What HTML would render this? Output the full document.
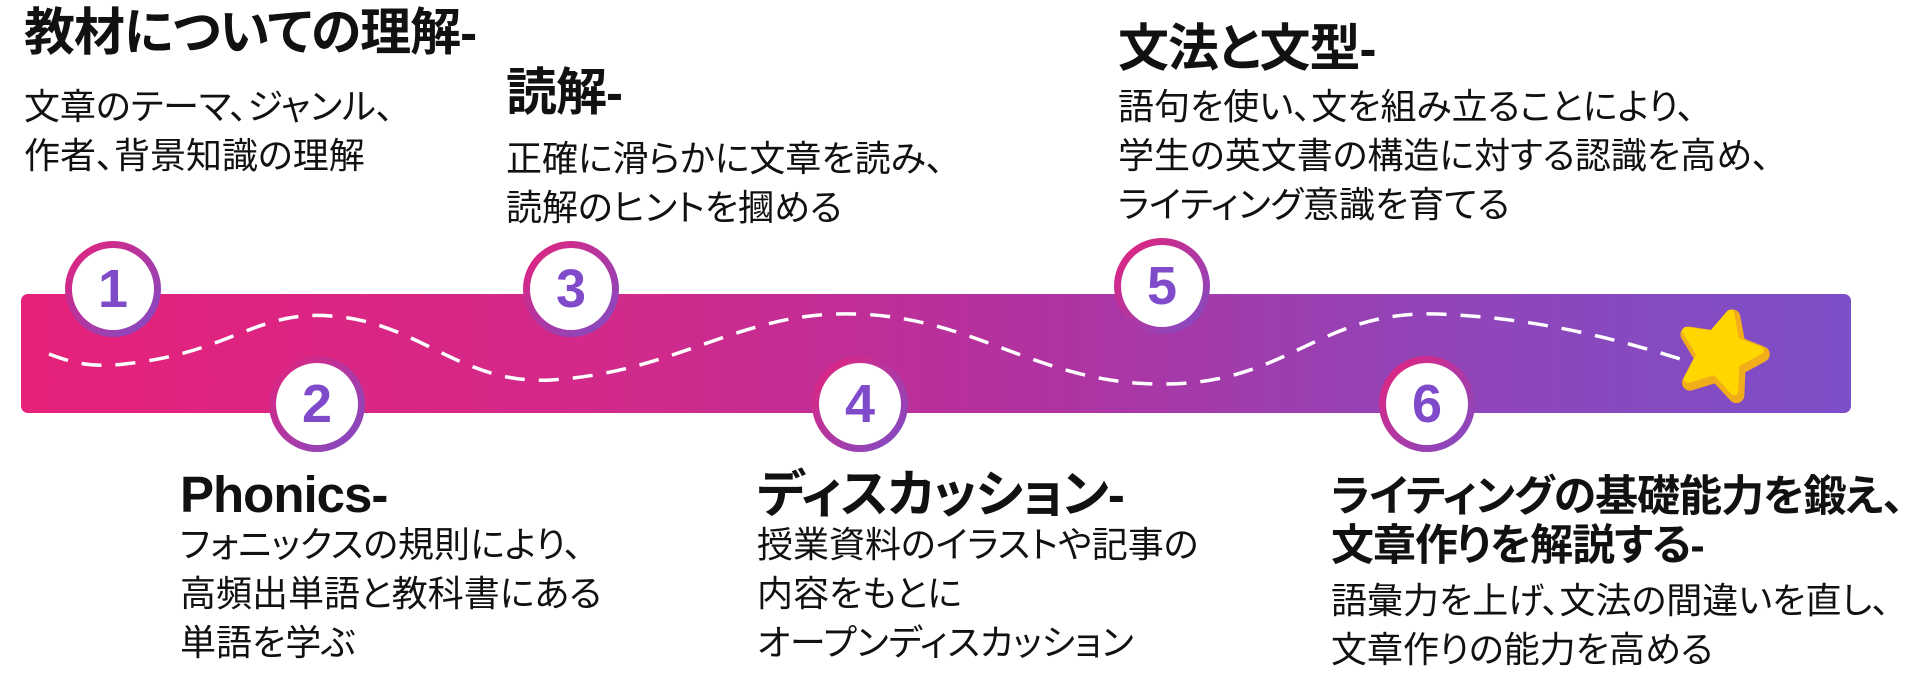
<!DOCTYPE html>
<html><head><meta charset="utf-8">
<style>
html,body{margin:0;padding:0;background:#fff;}
body{width:1920px;height:698px;position:relative;overflow:hidden;font-family:"Liberation Sans","Noto Sans CJK JP",sans-serif;color:#111;font-feature-settings:"palt";}
.t{position:absolute;font-weight:bold;font-size:51px;line-height:58px;white-space:nowrap;letter-spacing:-1px;}
.b{position:absolute;font-size:36px;line-height:49px;white-space:nowrap;}
.band{position:absolute;left:21px;top:294px;width:1830px;height:119px;border-radius:7px;background:linear-gradient(90deg,#e6217a 0%,#cf2a8c 35%,#b232a0 55%,#9443b6 75%,#7c4fc8 100%);}
.c{position:absolute;width:96px;height:96px;border-radius:50%;background:linear-gradient(135deg,#e8207a,#7b4ec8);}
.c div{position:absolute;left:7px;top:7px;width:82px;height:82px;border-radius:50%;background:#fff;color:#7f4bca;font-weight:bold;font-size:54px;line-height:82px;text-align:center;}
svg{position:absolute;left:0;top:0;}
</style></head><body>
<div class="band"></div>
<svg width="1920" height="698">
<path d="M49 354 C80 366 100 368 140 362 C230 350 260 310 331 316 C420 322 460 385 551 380 C680 372 740 310 857 314 C980 318 1040 386 1168 384 C1290 382 1320 310 1438 314 C1540 318 1620 340 1690 362" fill="none" stroke="#fff" stroke-width="3.5" stroke-dasharray="20 14"/>
<g transform="translate(1722,356) rotate(15)">
<polygon points="0,-40 12,-15 38,-12 18,7 24,34 0,19 -24,34 -18,7 -38,-12 -12,-15" fill="#f2ad1a" stroke="#f2ad1a" stroke-width="16" stroke-linejoin="round"/>
<polygon points="0,-40 12,-15 38,-12 18,7 24,34 0,19 -24,34 -18,7 -38,-12 -12,-15" fill="#ffd600" stroke="#ffd600" stroke-width="8" stroke-linejoin="round" transform="translate(-3,-3)"/>
</g>
</svg>
<div class="c" style="left:65px;top:241px"><div>1</div></div>
<div class="c" style="left:269px;top:356px"><div>2</div></div>
<div class="c" style="left:523px;top:241px"><div>3</div></div>
<div class="c" style="left:812px;top:356px"><div>4</div></div>
<div class="c" style="left:1114px;top:238px"><div>5</div></div>
<div class="c" style="left:1379px;top:356px"><div>6</div></div>

<div class="t" style="left:24px;top:4px">教材についての理解-</div>
<div class="b" style="left:24px;top:82px">文章のテーマ、ジャンル、<br>作者、背景知識の理解</div>

<div class="t" style="left:506px;top:64px">読解-</div>
<div class="b" style="left:506px;top:134px">正確に滑らかに文章を読み、<br>読解のヒントを摑める</div>

<div class="t" style="left:1118px;top:20px">文法と文型-</div>
<div class="b" style="left:1118px;top:82px">語句を使い、文を組み立ることにより、<br>学生の英文書の構造に対する認識を高め、<br>ライティング意識を育てる</div>

<div class="t" style="left:180px;top:466px">Phonics-</div>
<div class="b" style="left:180px;top:520px">フォニックスの規則により、<br>高頻出単語と教科書にある<br>単語を学ぶ</div>

<div class="t" style="left:757px;top:466px">ディスカッション-</div>
<div class="b" style="left:757px;top:520px">授業資料のイラストや記事の<br>内容をもとに<br>オープンディスカッション</div>

<div class="t" style="left:1331px;top:473px;line-height:49px;font-size:43px">ライティングの基礎能力を鍛え、<br>文章作りを解説する-</div>
<div class="b" style="left:1331px;top:576px">語彙力を上げ、文法の間違いを直し、<br>文章作りの能力を高める</div>
</body></html>
